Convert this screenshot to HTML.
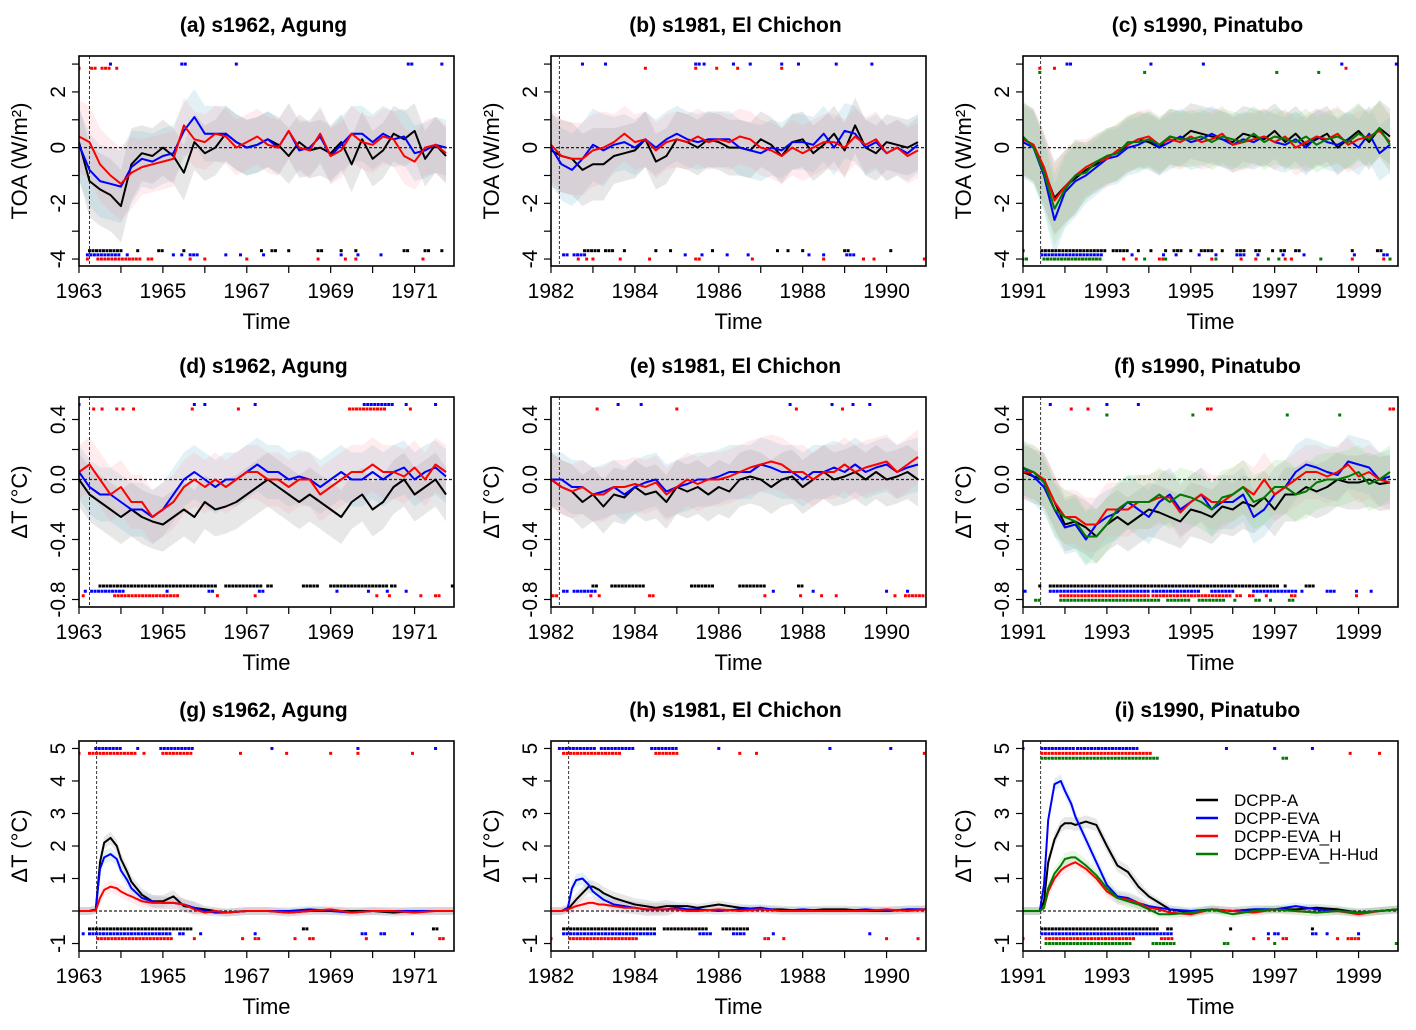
<!DOCTYPE html>
<html><head><meta charset="utf-8"><style>
html,body{margin:0;padding:0;background:#fff;}
svg{display:block;font-family:"Liberation Sans",Arial,sans-serif;}
</style></head><body>
<svg id="fig" width="1416" height="1030" viewBox="0 0 1416 1030"></svg>
<script>
// ---- time axes (offsets in years from panel start year) ----
const qOffsets = [];
for (let i = 0; i < 36; i++) qOffsets.push(i * 0.25);
const r3Offsets = [0,0.25,0.4,0.5,0.6,0.75,0.9,1.0,1.15,1.25,1.5,1.75,2.0,2.25,2.5,2.75,3.0,3.25,3.5,4,4.5,5,5.5,6,6.5,7,7.5,8,8.5,8.94];
const startYears = [1963, 1982, 1991];
const titles = ["(a) s1962, Agung","(b) s1981, El Chichon","(c) s1990, Pinatubo","(d) s1962, Agung","(e) s1981, El Chichon","(f) s1990, Pinatubo","(g) s1962, Agung","(h) s1981, El Chichon","(i) s1990, Pinatubo"];
const eruptionOffsets = [[0.25,0.2,0.42],[0.25,0.2,0.42],[0.42,0.42,0.42]];
const legendLabels = ["DCPP-A","DCPP-EVA","DCPP-EVA_H","DCPP-EVA_H-Hud"];

// ---- row 1: TOA ----
const aBlack=[0.2,-1.2,-1.5,-1.7,-2.1,-0.6,-0.2,-0.3,0.0,-0.3,-0.9,0.2,-0.2,0.0,0.5,0.2,0.0,0.1,0.3,0.1,-0.3,0.2,-0.1,0.0,-0.2,0.2,-0.6,0.3,-0.4,-0.1,0.5,0.3,0.6,-0.4,0.1,-0.3];
const aBlue=[0.1,-0.8,-1.2,-1.3,-1.4,-0.7,-0.4,-0.5,-0.3,-0.2,0.6,1.1,0.5,0.5,0.5,0.2,0.0,0.1,0.3,0.0,0.6,-0.1,0.0,0.4,-0.3,0.1,0.5,0.5,0.2,0.5,0.3,0.4,-0.2,-0.1,0.1,0.0];
const aRed=[0.4,0.2,-0.6,-1.0,-1.3,-0.9,-0.7,-0.6,-0.5,-0.4,0.8,0.3,0.2,0.5,0.4,0.0,0.2,0.4,0.1,0.0,0.6,0.0,-0.1,0.5,-0.3,-0.1,0.5,0.2,0.1,0.4,0.3,-0.3,-0.5,0.0,0.1,-0.2];
const bBlack=[-0.1,-0.3,-0.4,-0.8,-0.6,-0.6,-0.3,-0.2,-0.1,0.3,-0.5,-0.3,0.3,0.2,0.0,0.3,0.2,0.0,0.0,-0.1,0.3,0.1,-0.3,0.2,0.3,-0.2,0.1,0.5,-0.1,0.8,0.0,-0.2,0.2,0.1,0.0,0.2];
const bBlue=[0.0,-0.6,-0.8,-0.4,0.1,-0.1,0.1,0.2,0.0,0.3,0.0,0.3,0.5,0.3,0.2,0.3,0.3,0.3,0.0,-0.1,-0.2,0.0,-0.1,0.2,0.2,0.1,0.5,0.0,0.6,0.5,0.0,0.2,-0.2,0.0,-0.2,0.1];
const bRed=[0.1,-0.3,-0.4,-0.4,-0.1,0.0,0.2,0.5,0.2,0.3,-0.1,0.2,0.3,0.2,0.4,0.2,0.3,0.2,0.4,0.3,0.0,-0.1,-0.3,0.0,-0.2,0.0,0.2,0.2,0.0,0.4,0.1,0.3,-0.2,0.0,-0.3,-0.1];
const cBlack=[0.3,0.1,-0.8,-1.8,-1.4,-1.1,-0.8,-0.6,-0.3,-0.2,0.1,0.3,0.2,0.0,0.4,0.3,0.6,0.5,0.4,0.3,0.2,0.5,0.4,0.3,0.6,0.2,0.5,0.1,0.3,0.5,0.0,0.3,0.6,0.2,0.7,0.4];
const cBlue=[0.2,0.0,-1.0,-2.6,-1.6,-1.2,-1.0,-0.7,-0.4,-0.3,0.0,0.1,0.3,0.0,0.2,0.4,0.2,0.3,0.5,0.3,0.1,0.3,0.2,0.4,0.2,0.1,0.3,0.0,0.4,0.2,0.1,0.3,0.0,0.5,-0.2,0.1];
const cRed=[0.3,0.1,-0.7,-1.9,-1.4,-1.0,-0.7,-0.5,-0.4,-0.1,0.1,0.3,0.4,0.1,0.3,0.2,0.4,0.2,0.3,0.5,0.1,0.2,0.3,0.4,0.2,0.4,0.0,0.2,0.4,0.3,0.5,0.1,0.3,0.4,0.6,0.2];
const cGreen=[0.4,0.0,-0.9,-2.2,-1.5,-1.0,-0.9,-0.5,-0.3,-0.2,0.2,0.2,0.3,0.1,0.4,0.3,0.3,0.4,0.2,0.4,0.3,0.2,0.5,0.2,0.4,0.3,0.2,0.4,0.1,0.3,0.4,0.2,0.5,0.3,0.7,0.1];
// ---- row 2: dT ----
const dBlack=[0.0,-0.1,-0.15,-0.2,-0.25,-0.2,-0.25,-0.28,-0.3,-0.25,-0.2,-0.25,-0.15,-0.2,-0.18,-0.15,-0.1,-0.05,0.0,-0.05,-0.1,-0.15,-0.1,-0.15,-0.2,-0.25,-0.15,-0.1,-0.2,-0.15,-0.05,0.0,-0.1,-0.05,0.0,-0.1];
const dBlue=[0.05,-0.05,-0.1,-0.1,-0.15,-0.2,-0.2,-0.25,-0.2,-0.1,0.0,0.05,0.0,-0.05,0.0,0.0,0.05,0.1,0.05,0.05,0.0,0.02,0.0,-0.05,0.0,0.05,0.0,0.0,0.05,0.0,0.05,0.08,0.0,0.05,0.08,0.02];
const dRed=[0.05,0.1,0.0,-0.1,-0.05,-0.15,-0.15,-0.25,-0.2,-0.15,-0.05,0.0,-0.05,0.0,-0.05,0.0,0.05,0.05,0.0,0.0,-0.05,0.0,0.0,-0.1,-0.05,0.0,0.05,0.05,0.1,0.05,0.05,0.02,0.08,0.0,0.1,0.05];
const eBlack=[0.0,-0.05,-0.08,-0.15,-0.1,-0.18,-0.1,-0.12,-0.05,-0.1,-0.08,-0.15,-0.05,-0.08,-0.05,-0.1,-0.05,-0.08,0.0,0.02,0.0,-0.05,0.0,0.02,-0.05,0.0,0.05,0.0,0.02,0.05,0.0,0.05,0.0,0.02,0.05,0.0];
const eBlue=[0.0,0.0,-0.05,-0.05,-0.1,-0.08,-0.05,-0.1,-0.05,-0.02,0.0,-0.08,-0.05,-0.03,0.0,0.0,0.02,0.05,0.05,0.05,0.1,0.08,0.05,0.05,0.0,0.05,0.05,0.08,0.05,0.1,0.05,0.08,0.1,0.05,0.08,0.1];
const eRed=[0.0,-0.05,-0.08,-0.05,-0.1,-0.1,-0.05,-0.05,-0.03,-0.05,-0.02,-0.1,-0.05,0.0,-0.03,0.0,0.0,0.02,0.05,0.08,0.1,0.12,0.1,0.05,0.05,0.0,0.05,0.05,0.1,0.05,0.08,0.1,0.12,0.05,0.1,0.15];
const fBlack=[0.05,0.02,0.0,-0.15,-0.3,-0.28,-0.32,-0.38,-0.3,-0.25,-0.3,-0.25,-0.2,-0.22,-0.25,-0.28,-0.2,-0.22,-0.25,-0.18,-0.2,-0.15,-0.18,-0.12,-0.2,-0.1,-0.1,-0.05,-0.08,-0.05,0.0,-0.02,-0.02,0.0,-0.03,-0.02];
const fBlue=[0.08,0.02,-0.05,-0.2,-0.32,-0.3,-0.4,-0.3,-0.25,-0.22,-0.15,-0.2,-0.25,-0.15,-0.1,-0.2,-0.15,-0.1,-0.2,-0.15,-0.15,-0.1,-0.25,-0.2,-0.1,-0.05,0.05,0.1,0.08,0.05,0.03,0.12,0.1,0.08,0.0,0.02];
const fRed=[0.05,0.05,0.0,-0.15,-0.25,-0.25,-0.3,-0.3,-0.2,-0.2,-0.2,-0.15,-0.15,-0.12,-0.12,-0.22,-0.15,-0.1,-0.15,-0.15,-0.1,-0.05,-0.1,0.0,-0.1,-0.05,0.0,0.05,0.05,0.02,0.05,0.1,0.02,0.05,0.0,-0.02];
const fGreen=[0.08,0.05,-0.02,-0.2,-0.25,-0.28,-0.38,-0.38,-0.3,-0.2,-0.15,-0.15,-0.15,-0.1,-0.15,-0.1,-0.12,-0.15,-0.2,-0.12,-0.1,-0.05,-0.15,-0.12,-0.05,-0.05,-0.1,-0.08,-0.02,0.0,0.0,0.02,0.05,-0.03,0.0,0.05];
// ---- row 3: stratospheric dT ----
const gBlack=[0,0,0.05,1.5,2.1,2.25,2.0,1.6,1.2,0.9,0.5,0.3,0.3,0.45,0.15,0.1,0.05,0.0,-0.05,0.0,0.0,-0.05,0.0,0.0,0.0,0.0,-0.05,0.0,0.0,0.0];
const gBlue=[0,0,0.05,1.3,1.65,1.75,1.6,1.25,0.95,0.7,0.4,0.3,0.25,0.25,0.2,0.1,0.0,-0.05,-0.05,0.0,0.0,0.0,0.05,0.0,-0.05,0.0,0.0,0.0,0.0,0.0];
const gRed=[0,0,0.02,0.4,0.65,0.75,0.7,0.6,0.5,0.45,0.3,0.25,0.25,0.25,0.2,0.05,-0.05,0.0,-0.05,0.0,0.0,-0.05,0.0,0.05,-0.05,0.0,0.0,-0.05,0.0,0.0];
const hBlack=[0,0,0.05,0.2,0.35,0.55,0.75,0.75,0.65,0.55,0.4,0.3,0.2,0.15,0.1,0.15,0.15,0.15,0.1,0.2,0.1,0.05,0.05,0.0,0.05,0.05,0.0,0.0,0.05,0.05];
const hBlue=[0,0,0.1,0.7,0.95,1.0,0.8,0.6,0.45,0.35,0.2,0.15,0.1,0.05,0.05,0.05,0.1,0.05,0.05,0.0,0.05,0.1,0.0,0.05,0.0,0.0,0.05,0.0,0.05,0.05];
const hRed=[0,0,0.05,0.1,0.15,0.2,0.25,0.25,0.2,0.2,0.15,0.1,0.1,0.05,0.05,0.05,0.05,0.0,0.0,0.05,0.0,0.05,0.0,0.0,0.0,0.0,0.0,0.05,0.0,0.05];
const iBlack=[0,0,0,0.3,1.5,2.2,2.6,2.7,2.7,2.65,2.75,2.65,2.0,1.4,1.2,0.75,0.45,0.25,0.05,-0.05,0.05,0.0,0.05,0.05,0.05,0.1,0.05,-0.05,0.0,0.05];
const iBlue=[0,0,0,0.8,2.8,3.9,4.0,3.7,3.3,2.9,2.2,1.5,0.8,0.45,0.4,0.25,0.15,0.1,0.05,0.0,0.05,0.0,0.05,0.05,0.15,0.05,0.0,-0.05,0.0,0.05];
const iRed=[0,0,0,0.1,0.6,1.0,1.25,1.35,1.45,1.5,1.3,1.0,0.6,0.4,0.35,0.25,0.1,0.05,-0.05,-0.1,0.05,0.0,-0.05,0.05,0.0,-0.05,0.0,-0.1,0.0,0.05];
const iGreen=[0,0,0,0.1,0.7,1.15,1.4,1.6,1.65,1.65,1.4,1.1,0.7,0.4,0.3,0.2,0.05,-0.1,-0.1,-0.05,0.05,-0.1,0.0,0.05,0.0,-0.05,0.0,-0.05,0.0,0.05];

// ---- significance dots: [series, slot, startOffset, endOffset] ----
const dotsA=[["r","t",0,0.05],["r","t",0.3,0.45],["r","t",0.55,0.75],["r","t",0.9,0.9],["b","t",0.75,0.75],["b","t",2.45,2.55],["b","t",3.75,3.75],["b","t",7.85,7.95],["b","t",8.65,8.65],["k","b",0.25,1.0],["k","b",1.4,1.4],["k","b",1.9,2.0],["k","b",2.5,2.5],["k","b",4.35,4.35],["k","b",4.6,4.7],["k","b",5.0,5.0],["k","b",5.7,5.8],["k","b",6.25,6.25],["k","b",6.6,6.6],["k","b",7.75,7.85],["k","b",8.25,8.35],["k","b",8.65,8.65],["b","b",0.2,1.0],["b","b",1.15,1.15],["b","b",2.25,2.25],["b","b",2.45,2.5],["b","b",2.65,2.85],["b","b",3.5,3.5],["b","b",3.85,3.85],["b","b",4.4,4.4],["b","b",6.25,6.25],["b","b",6.65,6.65],["b","b",7.2,7.2],["r","b",0.2,0.2],["r","b",0.45,1.5],["r","b",1.65,1.75],["r","b",2.65,2.65],["r","b",3.0,3.0],["r","b",4.0,4.0],["r","b",5.7,5.7],["r","b",6.35,6.35],["r","b",6.6,6.6],["r","b",8.2,8.2]];
const dotsB=[["b","t",0.75,0.75],["b","t",1.3,1.3],["b","t",3.45,3.55],["b","t",3.65,3.65],["b","t",4.35,4.35],["b","t",4.75,4.75],["b","t",5.5,5.5],["b","t",5.9,5.9],["b","t",6.8,6.8],["b","t",7.65,7.65],["r","t",2.25,2.25],["r","t",3.45,3.45],["r","t",3.95,3.95],["r","t",4.45,4.45],["r","t",5.5,5.5],["k","b",0.8,1.2],["k","b",1.3,1.5],["k","b",1.75,1.75],["k","b",2.5,2.5],["k","b",2.85,2.85],["k","b",3.85,3.85],["k","b",5.4,5.4],["k","b",5.65,5.65],["k","b",6.0,6.0],["k","b",7.0,7.1],["k","b",8.1,8.1],["b","b",0.3,0.4],["b","b",0.55,0.8],["b","b",3.2,3.2],["b","b",3.6,3.6],["b","b",4.2,4.2],["b","b",4.7,4.7],["b","b",6.15,6.15],["b","b",6.5,6.5],["b","b",7.05,7.25],["r","b",0.65,0.65],["r","b",0.85,0.85],["r","b",1.0,1.0],["r","b",1.65,1.65],["r","b",2.35,2.35],["r","b",3.45,3.55],["r","b",4.8,4.8],["r","b",6.5,6.5],["r","b",7.45,7.45],["r","b",7.7,7.7],["r","b",8.9,8.9]];
const dotsC=[["r","t",0.4,0.4],["r","t",0.75,0.75],["r","t",7.7,7.7],["b","t",1.05,1.15],["b","t",3.05,3.05],["b","t",4.3,4.3],["b","t",7.6,7.6],["b","t",8.9,8.9],["g","t",0.4,0.4],["g","t",2.9,2.9],["g","t",6.05,6.05],["g","t",7.05,7.05],["k","b",0.0,0.0],["k","b",0.45,2.0],["k","b",2.15,2.5],["k","b",2.75,2.75],["k","b",3.05,3.05],["k","b",3.4,3.4],["k","b",3.6,3.8],["k","b",4.0,4.0],["k","b",4.25,4.5],["k","b",4.75,4.75],["k","b",5.1,5.3],["k","b",5.55,5.7],["k","b",5.95,5.95],["k","b",6.15,6.3],["k","b",6.5,6.6],["k","b",7.85,7.85],["k","b",8.45,8.6],["b","b",0.45,1.9],["b","b",2.6,2.6],["b","b",3.35,3.35],["b","b",3.65,3.65],["b","b",4.2,4.2],["b","b",4.6,4.6],["b","b",5.1,5.3],["b","b",5.6,5.6],["b","b",6.2,6.2],["b","b",6.7,6.7],["b","b",7.9,7.9],["b","b",8.6,8.7],["r","b",0.5,1.9],["r","b",2.4,2.4],["r","b",2.7,2.7],["r","b",3.25,3.35],["r","b",4.5,4.5],["r","b",5.2,5.2],["r","b",5.55,5.55],["r","b",6.25,6.25],["r","b",6.4,6.4],["r","b",7.85,7.85],["r","b",8.6,8.6],["g","b",0.0,0.1],["g","b",0.5,1.9],["g","b",2.9,2.9],["g","b",3.4,3.4],["g","b",4.6,4.6],["g","b",5.85,5.85],["g","b",6.1,6.1],["g","b",7.1,7.1],["g","b",8.75,8.75]];
const dotsD=[["b","t",0.0,0.0],["b","t",2.75,2.75],["b","t",3.0,3.0],["b","t",4.2,4.2],["b","t",6.8,7.5],["b","t",7.8,7.8],["b","t",8.5,8.5],["r","t",0.35,0.35],["r","t",0.55,0.55],["r","t",0.9,0.9],["r","t",1.05,1.05],["r","t",1.3,1.3],["r","t",2.7,2.7],["r","t",3.8,3.8],["r","t",6.45,7.3],["r","t",7.9,7.9],["k","b",0.5,3.3],["k","b",3.5,4.35],["k","b",4.5,4.6],["k","b",5.35,5.7],["k","b",6.0,7.35],["k","b",7.45,7.6],["k","b",8.9,8.9],["b","b",0.15,0.15],["b","b",0.3,1.05],["b","b",2.1,2.1],["b","b",3.1,3.2],["b","b",4.3,4.45],["b","b",6.15,6.15],["b","b",6.9,6.9],["b","b",7.35,7.35],["b","b",7.8,7.8],["r","b",0.1,0.1],["r","b",0.85,2.4],["r","b",3.3,3.3],["r","b",4.2,4.2],["r","b",7.1,7.1],["r","b",7.4,7.4],["r","b",8.15,8.15],["r","b",8.5,8.6]];
const dotsE=[["r","t",1.1,1.1],["r","t",3.0,3.0],["r","t",5.85,5.85],["r","t",6.95,6.95],["b","t",1.6,1.6],["b","t",2.15,2.15],["b","t",5.7,5.7],["b","t",6.7,6.7],["b","t",7.2,7.2],["b","t",7.6,7.6],["k","b",1.0,1.1],["k","b",1.45,2.25],["k","b",3.35,3.9],["k","b",4.5,5.1],["k","b",5.9,6.0],["b","b",0.3,0.4],["b","b",0.55,1.1],["b","b",5.3,5.3],["b","b",6.25,6.25],["b","b",8.0,8.0],["b","b",8.5,8.5],["r","b",0.05,0.15],["r","b",0.95,0.95],["r","b",1.15,1.15],["r","b",2.35,2.45],["r","b",5.1,5.1],["r","b",5.95,5.95],["r","b",6.45,6.45],["r","b",6.8,6.8],["r","b",8.2,8.2],["r","b",8.45,8.9]];
const dotsF=[["b","t",0.65,0.65],["b","t",2.0,2.0],["b","t",2.75,2.75],["r","t",1.15,1.15],["r","t",1.55,1.55],["r","t",4.4,4.5],["r","t",8.75,8.85],["g","t",2.0,2.0],["g","t",4.05,4.05],["g","t",6.3,6.3],["g","t",7.55,7.55],["k","b",0.4,0.4],["k","b",0.65,6.1],["k","b",6.25,6.25],["k","b",6.75,6.95],["b","b",0.05,0.05],["b","b",0.65,3.0],["b","b",3.1,4.25],["b","b",4.5,5.0],["b","b",5.5,6.5],["b","b",6.65,6.65],["b","b",7.25,7.45],["b","b",7.95,7.95],["b","b",8.3,8.3],["r","b",0.9,3.0],["r","b",3.1,5.0],["r","b",5.1,5.2],["r","b",5.4,5.5],["r","b",5.8,5.8],["r","b",6.4,6.5],["r","b",7.95,7.95],["g","b",0.3,0.4],["g","b",0.9,3.3],["g","b",3.45,3.95],["g","b",4.2,4.8],["g","b",5.05,5.05],["g","b",5.55,5.7],["g","b",5.9,5.9],["g","b",6.35,6.45]];
const dotsG=[["b","t",0.4,1.0],["b","t",1.4,1.4],["b","t",1.95,2.7],["b","t",4.6,4.6],["b","t",6.65,6.65],["b","t",8.5,8.5],["r","t",0.0,0.0],["r","t",0.25,1.35],["r","t",1.55,1.55],["r","t",2.0,2.7],["r","t",3.85,3.85],["r","t",4.95,4.95],["r","t",6.0,6.0],["r","t",6.65,6.65],["r","t",7.95,7.95],["k","b",0.25,2.7],["k","b",5.35,5.45],["k","b",8.45,8.55],["b","b",0.1,0.1],["b","b",0.25,2.2],["b","b",2.4,2.5],["b","b",2.9,2.9],["b","b",4.2,4.2],["b","b",6.75,6.85],["b","b",7.2,7.3],["b","b",7.95,7.95],["r","b",0.45,2.2],["r","b",2.75,2.75],["r","b",3.9,3.9],["r","b",4.2,4.3],["r","b",5.15,5.15],["r","b",5.5,5.6],["r","b",6.85,6.85],["r","b",8.6,8.7]];
const dotsH=[["b","t",0.2,1.1],["b","t",1.2,2.0],["b","t",2.4,3.0],["b","t",4.0,4.0],["b","t",6.65,6.65],["b","t",8.1,8.1],["r","t",0.3,1.7],["r","t",2.5,3.0],["r","t",4.5,4.5],["r","t",4.9,4.9],["r","t",8.9,8.9],["k","b",0.3,2.5],["k","b",2.7,3.7],["k","b",4.1,4.7],["b","b",0.3,2.5],["b","b",3.55,3.8],["b","b",4.35,4.6],["b","b",5.3,5.3],["b","b",7.6,7.6],["r","b",0.0,0.0],["r","b",0.45,2.1],["r","b",5.1,5.2],["r","b",5.55,5.55],["r","b",8.0,8.0],["r","b",8.75,8.75]];
const dotsI=[["b","t",0.0,0.0],["b","t",0.45,1.2],["b","t",1.3,2.75],["b","t",4.85,4.85],["b","t",6.0,6.0],["b","t",6.9,6.9],["r","t",0.45,3.1],["r","t",7.8,7.8],["r","t",8.5,8.5],["g","t",0.45,3.2],["g","t",6.2,6.3],["k","b",0.45,3.2],["k","b",3.45,3.6],["k","b",4.95,4.95],["k","b",6.9,6.9],["b","b",0.45,3.6],["b","b",5.85,5.85],["b","b",6.0,6.1],["b","b",6.9,7.0],["b","b",7.25,7.25],["b","b",8.0,8.0],["r","b",0.0,0.0],["r","b",0.55,2.7],["r","b",3.3,3.6],["r","b",5.5,5.5],["r","b",5.85,5.85],["r","b",6.2,6.3],["r","b",7.5,7.5],["r","b",7.75,8.0],["g","b",0.55,2.6],["g","b",3.1,3.6],["g","b",4.8,4.95],["g","b",6.0,6.0],["g","b",8.9,8.9]];

// ---------------- drawing ----------------
const NS="http://www.w3.org/2000/svg";
const svg=document.getElementById("fig");
function el(tag,attrs,parent,text){const e=document.createElementNS(NS,tag);for(const k in attrs)e.setAttribute(k,attrs[k]);if(text!==undefined)e.textContent=text;(parent||svg).appendChild(e);return e;}
const colX=[79,551,1023], rowY=[56,397,741], PW=375, PH=210, SPAN=8.94;
const rowDom=[[-4.25,3.29],[-0.85,0.55],[-1.23,5.23]];
const rowTicks=[[-4,-3,-2,-1,0,1,2,3],[-0.8,-0.6,-0.4,-0.2,0,0.2,0.4],[-1,0,1,2,3,4,5]];
const rowLabels=[[-4,-2,0,2],[-0.8,-0.4,0,0.4],[-1,1,2,3,4,5]];
const rowYTitle=["TOA (W/m²)","ΔT (°C)","ΔT (°C)"];
const COL={k:"#000000",b:"#0000ff",r:"#ff0000",g:"#007a00"};
const BAND={k:"rgba(120,120,120,0.18)",b:"rgba(120,190,215,0.22)",r:"rgba(255,160,170,0.2)",g:"rgba(120,220,120,0.2)"};
const rowSlots=[{t:{b:3.0,r:2.85,g:2.7},b:{k:-3.7,b:-3.85,r:-4.0,g:-4.0}},{t:{b:0.5,r:0.47,g:0.43},b:{k:-0.71,b:-0.745,r:-0.775,g:-0.805}},{t:{b:5.0,r:4.85,g:4.7},b:{k:-0.55,b:-0.7,r:-0.85,g:-1.0}}];
const bandW=[1.0,0.18,0.12];
const panelSeries=[
 [{k:aBlack,b:aBlue,r:aRed},{k:bBlack,b:bBlue,r:bRed},{k:cBlack,b:cBlue,r:cRed,g:cGreen}],
 [{k:dBlack,b:dBlue,r:dRed},{k:eBlack,b:eBlue,r:eRed},{k:fBlack,b:fBlue,r:fRed,g:fGreen}],
 [{k:gBlack,b:gBlue,r:gRed},{k:hBlack,b:hBlue,r:hRed},{k:iBlack,b:iBlue,r:iRed,g:iGreen}]];
const panelDots=[[dotsA,dotsB,dotsC],[dotsD,dotsE,dotsF],[dotsG,dotsH,dotsI]];

for(let r=0;r<3;r++)for(let c=0;c<3;c++){
  const x0=colX[c], y0=rowY[r], dom=rowDom[r];
  const xs=o=>x0+o/SPAN*PW;
  const ys=v=>y0+PH-(v-dom[0])/(dom[1]-dom[0])*PH;
  const g=el("g",{});
  
  
  const t=el("text",{x:x0+PW/2-3,y:y0-24,"text-anchor":"middle","font-size":21,"font-weight":"bold"},g,titles[r*3+c]);
  
  
  const cp="clip"+r+c;
  const cl=el("clipPath",{id:cp},g);el("rect",{x:x0,y:y0,width:PW,height:PH},cl);
  const plot=el("g",{"clip-path":"url(#"+cp+")"},g);
  const offs=r===2?r3Offsets:qOffsets;
  const ser=panelSeries[r][c];
  for(const key of ["k","b","r","g"]){ if(!ser[key])continue;
    const vals=ser[key];let up=[],dn=[];
    vals.forEach((v,i)=>{const w=bandW[r]*(r===0&&offs[i]<1.5?1.3:1)*(r===2&&offs[i]>=0.5&&offs[i]<3?1.6:1);up.push(xs(offs[i])+","+ys(v+w));dn.unshift(xs(offs[i])+","+ys(v-w));});
    const b=el("polygon",{points:up.concat(dn).join(" "),fill:BAND[key],stroke:"none"},plot);
    
    
  }
  el("line",{x1:x0,x2:x0+PW,y1:ys(0),y2:ys(0),stroke:"#222","stroke-width":1.2,"stroke-dasharray":"3,2"},plot);
  const ex=xs(eruptionOffsets[r][c]);
  const vl=el("line",{x1:ex,x2:ex,y1:y0,y2:y0+PH,stroke:"#333","stroke-width":1,"stroke-dasharray":"3,2"},plot);
  
  
  for(const key of ["k","b","r","g"]){ if(!ser[key])continue;
    const pts=ser[key].map((v,i)=>xs(offs[i]).toFixed(1)+","+ys(v).toFixed(1)).join(" ");
    const pl=el("polyline",{points:pts,fill:"none",stroke:COL[key],"stroke-width":2,"stroke-linejoin":"round"},plot);
    
    
  }
  for(const d of panelDots[r][c]){
    const yv=rowSlots[r][d[1]][d[0]];
    for(let o=d[2];o<=d[3]+1e-6;o+=1/12){
      const dt=el("rect",{x:xs(o)-1.5,y:ys(yv)-1.5,width:3,height:3,fill:COL[d[0]]},plot);
      
      
    }
  }
  el("rect",{x:x0,y:y0,width:PW,height:PH,fill:"none",stroke:"#000","stroke-width":1.6},g);
  const sy=startYears[c];
  for(let yr=0;yr<=8;yr++){const xx=xs(yr);
    el("line",{x1:xx,x2:xx,y1:y0+PH,y2:y0+PH+7,stroke:"#000","stroke-width":1.2},g);
    if(yr%2===0){const tl=el("text",{x:xx,y:y0+PH+32,"text-anchor":"middle","font-size":21},g,String(sy+yr));
      }
  }
  const xt=el("text",{x:x0+PW/2,y:y0+PH+63,"text-anchor":"middle","font-size":22},g,"Time");
  
  
  for(const tv of rowTicks[r]){const yy=ys(tv);
    el("line",{x1:x0-7,x2:x0,y1:yy,y2:yy,stroke:"#000","stroke-width":1.2},g);}
  for(const tv of rowLabels[r]){const yy=ys(tv);const lx=x0-14;
    const s=r===1?tv.toFixed(1):String(tv);
    const tl=el("text",{x:lx,y:yy,"text-anchor":"middle","font-size":21,transform:"rotate(-90 "+lx+" "+yy+")"},g,s);
    }
  const tx=x0-52, ty=y0+PH/2;
  const yt=el("text",{x:tx,y:ty,"text-anchor":"middle","font-size":22,transform:"rotate(-90 "+tx+" "+ty+")"},g,rowYTitle[r]);
  
  
}
const lg=el("g",{});


["k","b","r","g"].forEach((k,i)=>{const y=800+i*18;
  el("line",{x1:1196,x2:1218,y1:y,y2:y,stroke:COL[k],"stroke-width":2.5},lg);
  const t=el("text",{x:1234,y:y+6,"font-size":17},lg,legendLabels[i]);
  
  
});
</script>
</body></html>
